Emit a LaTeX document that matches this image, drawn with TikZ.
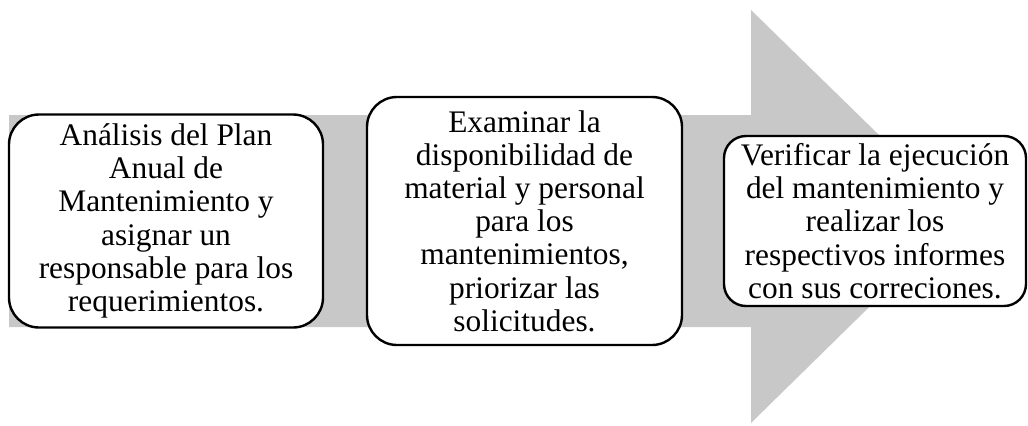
\documentclass[tikz,border=0pt]{standalone}
\usepackage{fontspec}
\setmainfont{Liberation Serif}
\definecolor{flecha}{RGB}{200,200,200}

\begin{document}
\begin{tikzpicture}[x=1bp,y=-1bp,
  caja/.style={draw, line width=2.4bp, rounded corners=30bp, fill=white,
    align=center, inner sep=0pt, font=\fontsize{31.5}{33.3}\selectfont}]
\useasboundingbox (0,0) rectangle (1028,425);
% flecha gris de fondo
\fill[flecha] (9,115) -- (751,115) -- (751,10) -- (962,216) -- (751,423) -- (751,327) -- (9,327) -- cycle;
% pasos
\node[caja, minimum width=314bp, minimum height=213bp] (analisis) at (166,221)
  {Análisis del Plan\\Anual de\\Mantenimiento y\\asignar un\\responsable para los\\requerimientos.};
\node[caja, minimum width=315bp, minimum height=248bp] (examinar) at (524.5,221)
  {Examinar la\\disponibilidad de\\material y personal\\para los\\mantenimientos,\\priorizar las\\solicitudes.};
\node[caja, rounded corners=22bp, minimum width=302bp, minimum height=170bp] (verificar) at (875,221)
  {Verificar la ejecución\\del mantenimiento y\\realizar los\\respectivos informes\\con sus correciones.};
\end{tikzpicture}
\end{document}
